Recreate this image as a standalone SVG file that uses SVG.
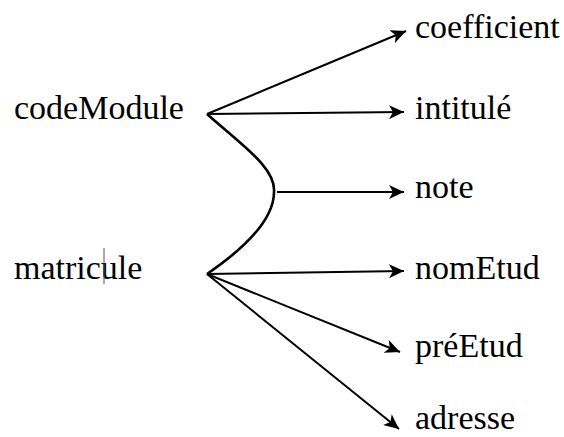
<svg xmlns="http://www.w3.org/2000/svg" width="564" height="437" viewBox="0 0 564 437">
  <defs>
    <marker id="arrow" markerUnits="userSpaceOnUse" markerWidth="16" markerHeight="14" refX="15" refY="7" orient="auto">
      <path d="M0,0 L15,7 L0,14 L4,7 Z" fill="#000"/>
    </marker>
    <style>
      .lbl { font-family: "Liberation Serif", "Times New Roman", serif; font-size: 34px; fill: #000; }
      .link { stroke: #000; stroke-width: 2; fill: none; marker-end: url(#arrow); }
      .curve { stroke: #000; stroke-width: 2.6; fill: none; }
    </style>
  </defs>
  <rect width="564" height="437" fill="#fff"/>

  <g id="connectors">
    <path class="curve" d="M207,114 C243,146 276,168 274,192 C274,220 245,248 207,274"/>
    <line class="link" x1="207" y1="114" x2="406" y2="31"/>
    <line class="link" x1="207" y1="114" x2="404" y2="112"/>
    <line class="link" x1="277" y1="192" x2="404" y2="192"/>
    <line class="link" x1="207" y1="274" x2="404" y2="271"/>
    <line class="link" x1="207" y1="274" x2="400" y2="352"/>
    <line class="link" x1="207" y1="274" x2="399" y2="429"/>
  </g>

  <g id="codeModule">
    <text class="lbl" x="14" y="119">codeModule</text>
  </g>
  <g id="matricule">
    <text class="lbl" x="14" y="279">matricule</text>
    <!-- caret -->
    <line x1="104" y1="248" x2="104" y2="284" stroke="#555" stroke-width="1"/>
  </g>
  <g id="coefficient">
    <text class="lbl" x="415" y="38">coefficient</text>
  </g>
  <g id="intitule">
    <text class="lbl" x="415" y="119">intitulé</text>
  </g>
  <g id="note">
    <text class="lbl" x="415" y="198">note</text>
  </g>
  <g id="nomEtud">
    <text class="lbl" x="415" y="279">nomEtud</text>
  </g>
  <g id="preEtud">
    <text class="lbl" x="415" y="357">préEtud</text>
  </g>
  <g id="adresse">
    <text class="lbl" x="415" y="429">adresse</text>
  </g>
</svg>
